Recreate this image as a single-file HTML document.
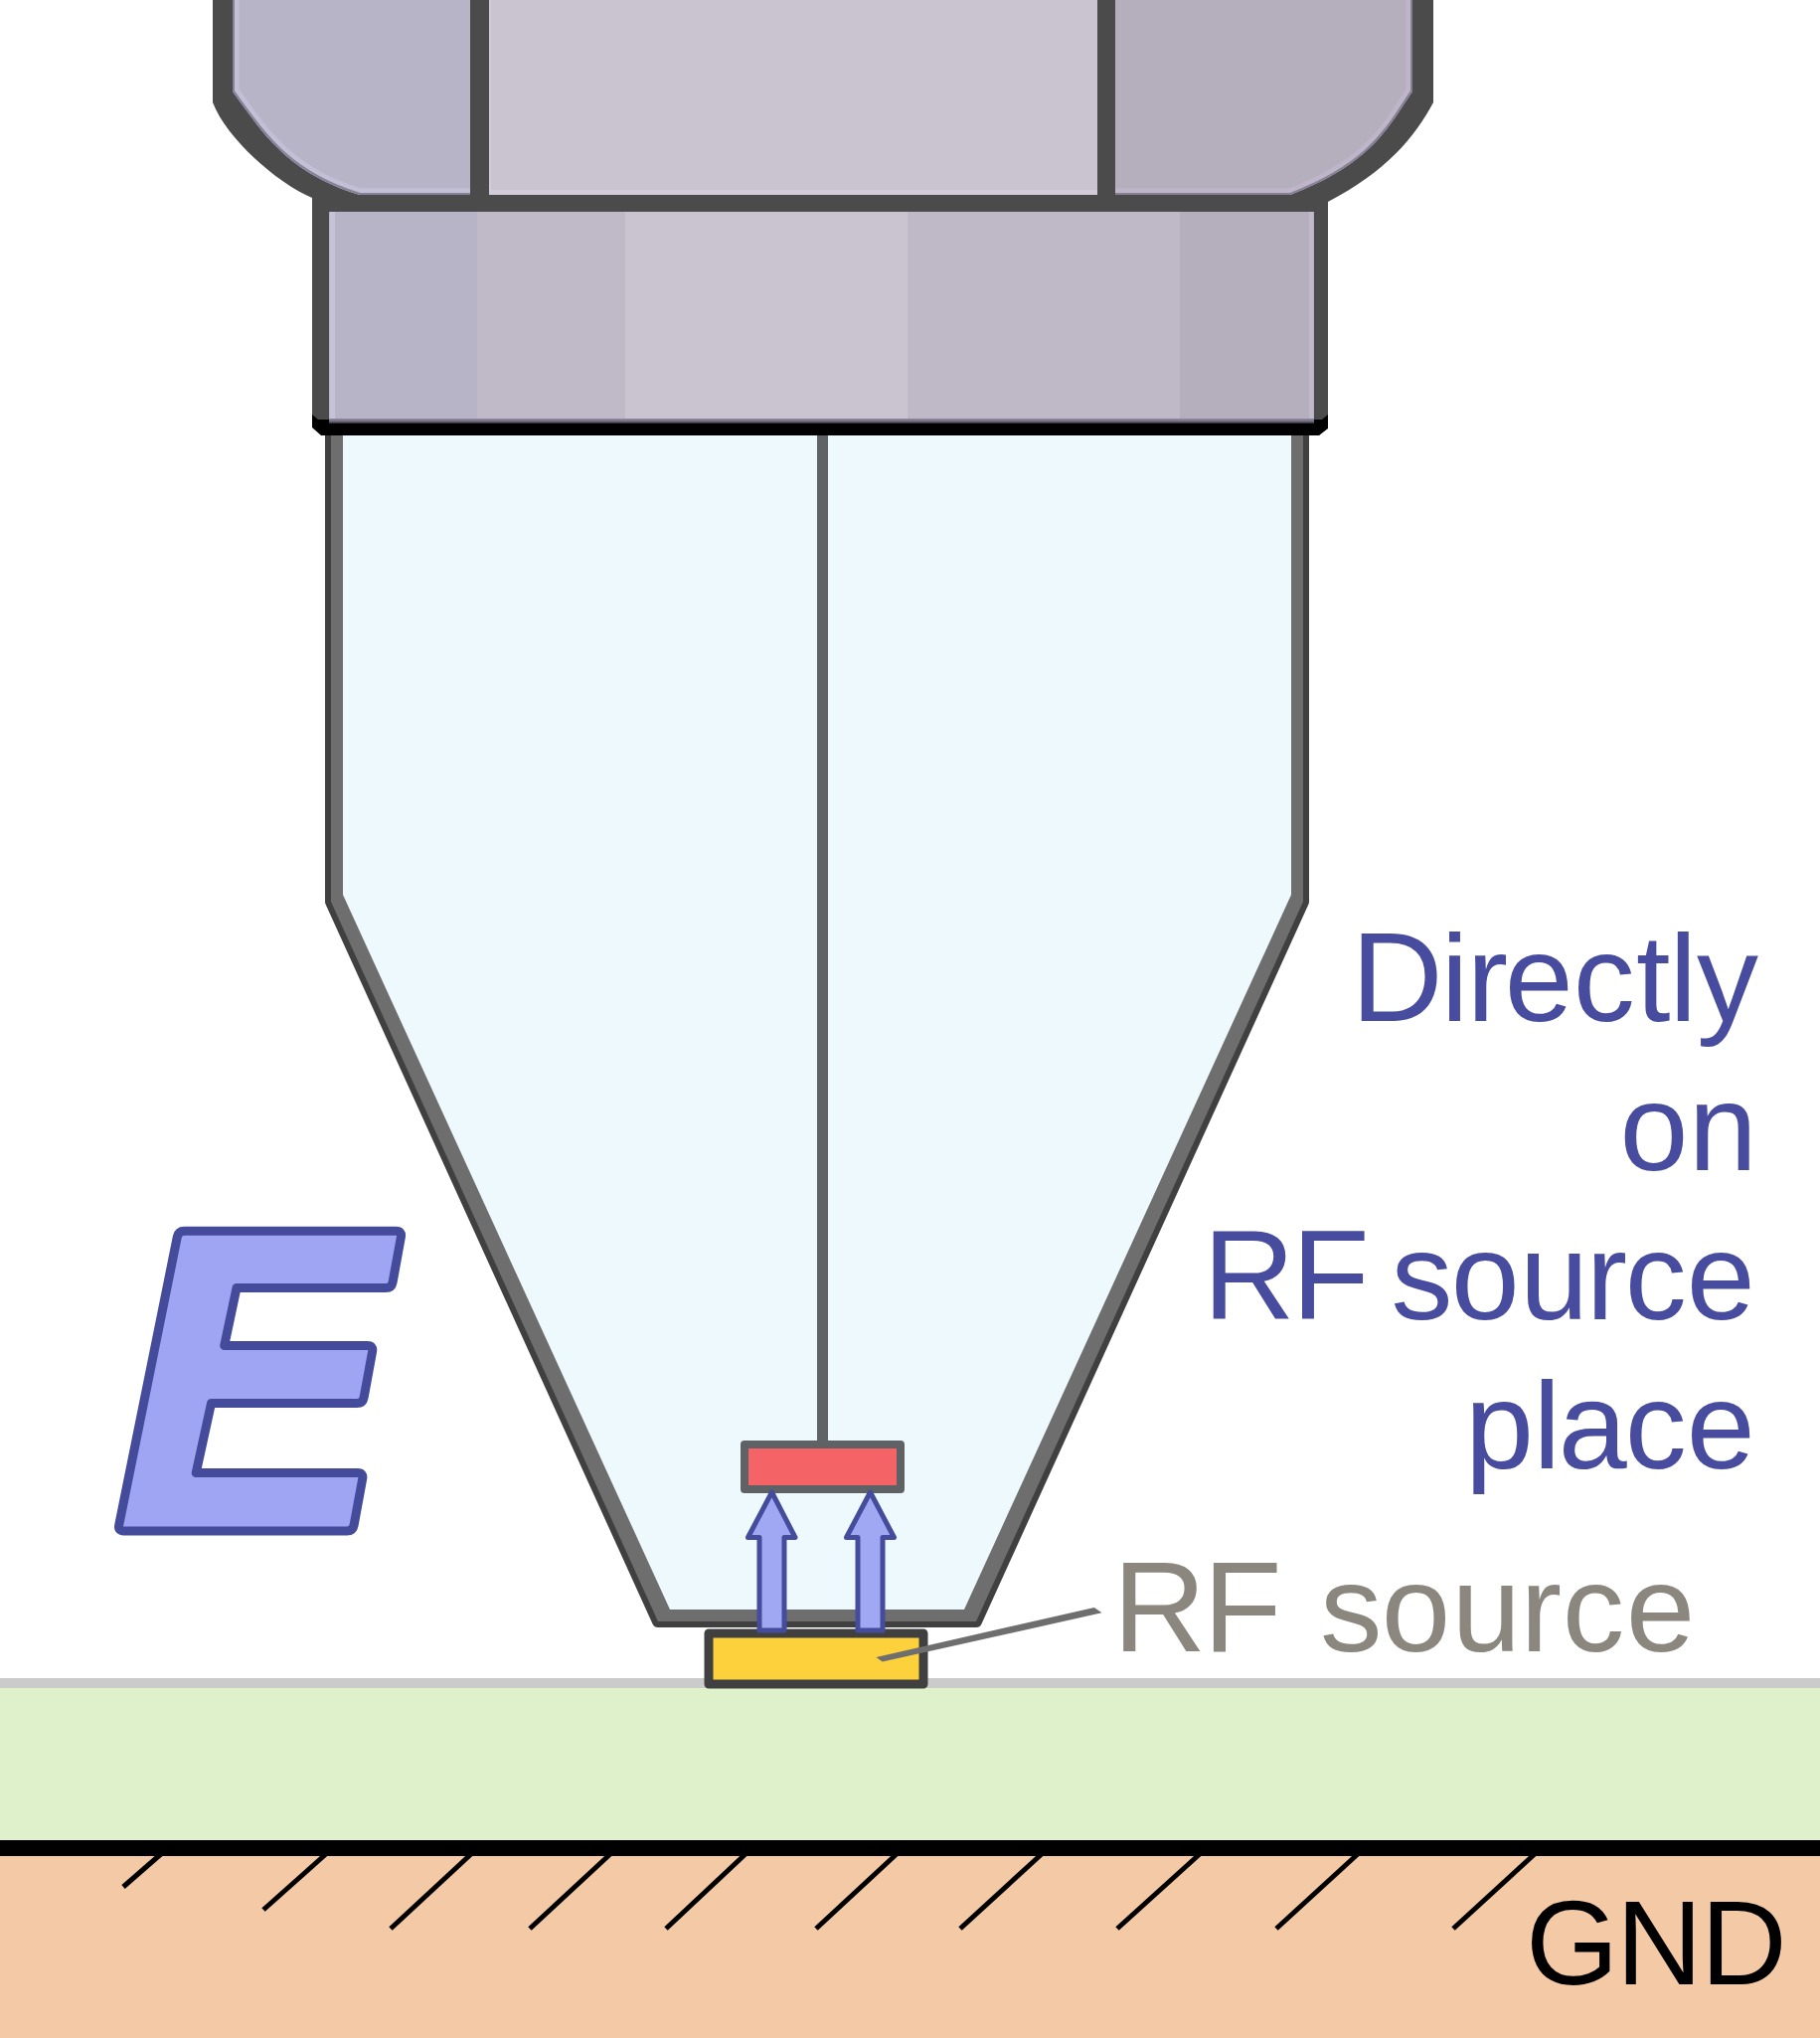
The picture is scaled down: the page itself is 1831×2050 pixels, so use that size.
<!DOCTYPE html>
<html><head><meta charset="utf-8">
<style>
html,body{margin:0;padding:0;background:#ffffff;width:1831px;height:2050px;overflow:hidden;}
svg{position:absolute;left:0;top:0;display:block;}
.t{font-family:"Liberation Sans",sans-serif;}
</style></head>
<body>
<svg width="1831" height="2050" viewBox="0 0 1831 2050">
<!-- ground -->
<rect x="0" y="1688" width="1831" height="10" fill="#cbcbcb"/>
<rect x="0" y="1698" width="1831" height="153" fill="#dff1cb"/>
<rect x="0" y="1851" width="1831" height="16" fill="#000"/>
<rect x="0" y="1867" width="1831" height="183" fill="#f4c9a6"/>
<g stroke="#000" stroke-width="5" stroke-linecap="butt">
<line x1="163" y1="1864" x2="124" y2="1898"/>
<line x1="329" y1="1864" x2="265" y2="1921"/>
<line x1="475" y1="1864" x2="393" y2="1940"/>
<line x1="615" y1="1864" x2="533" y2="1940"/>
<line x1="751" y1="1864" x2="670" y2="1940"/>
<line x1="903" y1="1864" x2="821" y2="1940"/>
<line x1="1049" y1="1864" x2="966" y2="1940"/>
<line x1="1208" y1="1864" x2="1124" y2="1940"/>
<line x1="1367" y1="1864" x2="1284" y2="1940"/>
<line x1="1545" y1="1864" x2="1462" y2="1940"/>
</g>

<!-- nut -->
<path d="M214,0 L214,103 C228.4,140.6 280,184.6 314,199 L314,213 L1336,213 L1336,203 C1394.3,172.8 1423.6,137.9 1442,103 L1442,0 Z" fill="#4b4b4b"/>
<path d="M234,0 L234,92 C265.2,135.1 289.8,173.9 362,196 L473,196 L473,0 Z" fill="#b8b4c8"/>
<rect x="492" y="0" width="612" height="196" fill="#cac4d0"/>
<path d="M1122,0 L1421,0 L1421,92 C1396.6,127.4 1381.4,163.9 1298,196 L1122,196 Z" fill="#b4aebd"/>

<defs>
<clipPath id="clf"><path d="M234,0 L234,92 C265.2,135.1 289.8,173.9 362,196 L473,196 L473,0 Z"/></clipPath>
<clipPath id="crf"><path d="M1122,0 L1421,0 L1421,92 C1396.6,127.4 1381.4,163.9 1298,196 L1122,196 Z"/></clipPath>
</defs>
<path d="M234,-10 L234,92 C265.2,135.1 289.8,173.9 362,196 L480,196" fill="none" stroke="#c3c0d6" stroke-width="13" clip-path="url(#clf)"/>
<path d="M234,-10 L234,92 C265.2,135.1 289.8,173.9 362,196 L480,196" fill="none" stroke="#85839a" stroke-width="4" clip-path="url(#clf)"/>
<path d="M1421,-10 L1421,92 C1396.6,127.4 1381.4,163.9 1298,196 L1110,196" fill="none" stroke="#beb6c8" stroke-width="13" clip-path="url(#crf)"/>
<path d="M1421,-10 L1421,92 C1396.6,127.4 1381.4,163.9 1298,196 L1110,196" fill="none" stroke="#858094" stroke-width="4" clip-path="url(#crf)"/>
<rect x="492" y="191" width="612" height="5" fill="#d3cdda"/>
<rect x="492" y="0" width="2" height="196" fill="#d3cdda"/>
<rect x="1104" y="0" width="0" height="196" fill="#d3cdda"/>
<!-- collar -->
<rect x="314" y="196" width="1022" height="230" fill="#4b4b4b"/>
<rect x="331" y="213" width="149" height="212" fill="#b8b4c8"/>
<rect x="480" y="213" width="149" height="212" fill="#c0b9c8"/>
<rect x="629" y="213" width="284" height="212" fill="#cac4d0"/>
<rect x="913" y="213" width="274" height="212" fill="#bfb8c6"/>
<rect x="1187" y="213" width="135" height="212" fill="#b4aebd"/>
<defs><linearGradient id="cg" x1="0" y1="0" x2="0" y2="1"><stop offset="0" stop-color="#948da3"/><stop offset="0.5" stop-color="#6f6a7c"/><stop offset="1" stop-color="#000"/></linearGradient></defs>
<rect x="332" y="213" width="5" height="209" fill="#c6c3d9"/>
<rect x="1317" y="213" width="4" height="209" fill="#c1b9ce"/>
<rect x="331" y="421" width="991" height="6" fill="url(#cg)"/>
<!-- body -->
<path d="M333,437 L333,907 L662,1631 L982,1631 L1311,907 L1311,437" fill="none" stroke="#404040" stroke-width="12" stroke-linejoin="round"/>
<path d="M333,437 L333,907 L662,1631 L982,1631 L1311,907 L1311,437 Z" fill="#6e6e6e"/>
<path d="M345,437 L345,900 L674,1619 L970,1619 L1299,900 L1299,437 Z" fill="#eef9fd"/>
<path d="M314,417 L320,422 L331,422 L331,426 L1322,426 L1322,422 L1330,422 L1336,417 L1336,431 L1327,438 L323,438 L314,430 Z" fill="#000"/>
<rect x="822" y="438" width="11" height="1012" fill="#5f6366"/>

<!-- red -->
<rect x="749" y="1453" width="157" height="45" fill="#f46466" stroke="#5f6265" stroke-width="8" stroke-linejoin="round"/>

<!-- yellow -->
<rect x="713" y="1643" width="216" height="51" fill="#fdd13b" stroke="#404040" stroke-width="9" stroke-linejoin="round"/>
<path d="M881.5,1666.9 L1100.8,1616.9 L1108.5,1622.3 L887.7,1671.5 Z" fill="#6e6e6e"/>

<!-- arrows -->
<g fill="#a0a8f4" stroke="#454c9c" stroke-width="5" stroke-linejoin="round">
<path d="M776.5,1501 L800,1546.5 L789,1546.5 L789,1640 L764,1640 L764,1546.5 L752.5,1546.5 Z"/>
<path d="M875.5,1501 L899.5,1546.5 L888,1546.5 L888,1640 L863,1640 L863,1546.5 L851.5,1546.5 Z"/>
</g>

<!-- E -->
<path d="M178.3,1244.2 Q179.5,1238.3 185.5,1238.3 L398.5,1238.3 Q404.5,1238.3 403.4,1244.2 L395.1,1289.7 Q394.0,1295.6 388.0,1295.6 L238.0,1295.6 L225.7,1353.6 L369.7,1353.6 Q375.7,1353.6 374.6,1359.5 L366.1,1405.7 Q365.0,1411.6 359.0,1411.6 L212.5,1411.6 L197.2,1481.6 L359.8,1481.6 Q365.8,1481.6 364.7,1487.5 L356.1,1534.1 Q355.0,1540.0 349.0,1540.0 L124.5,1540.0 Q118.5,1540.0 119.7,1534.1 Z" fill="#9fa5f3" stroke="#444b9a" stroke-width="9" stroke-linejoin="round"/>

<!-- texts -->
<g class="t" fill="#474c9e">
<text y="1027"><tspan x="1359.2" font-size="128">D</tspan><tspan x="1449.7 1475.8 1513.7 1582.7 1646.1 1679.6 1707.0" font-size="124">irectly</tspan></text>
<text y="1177"><tspan x="1629.6 1698.8" font-size="124">on</tspan></text>
<text y="1327"><tspan x="1210.3 1299.5" font-size="128">RF</tspan><tspan x="1399.5 1459.8 1528.9 1595.8 1634.7 1696.7" font-size="124">source</tspan></text>
<text y="1477"><tspan x="1473.9 1542.5 1567.7 1634.7 1696.7" font-size="124">place</tspan></text>
</g>
<text y="1661" class="t" fill="#8b877f"><tspan x="1119.4 1210.3" font-size="130">RF</tspan><tspan x="1327.9 1389.8 1460.6 1529.6 1571.7 1635.7" font-size="125">source</tspan></text>
<text y="1996" class="t" fill="#000"><tspan x="1535.1 1626.1 1711.0" font-size="120">GND</tspan></text>
</svg>
</body></html>
